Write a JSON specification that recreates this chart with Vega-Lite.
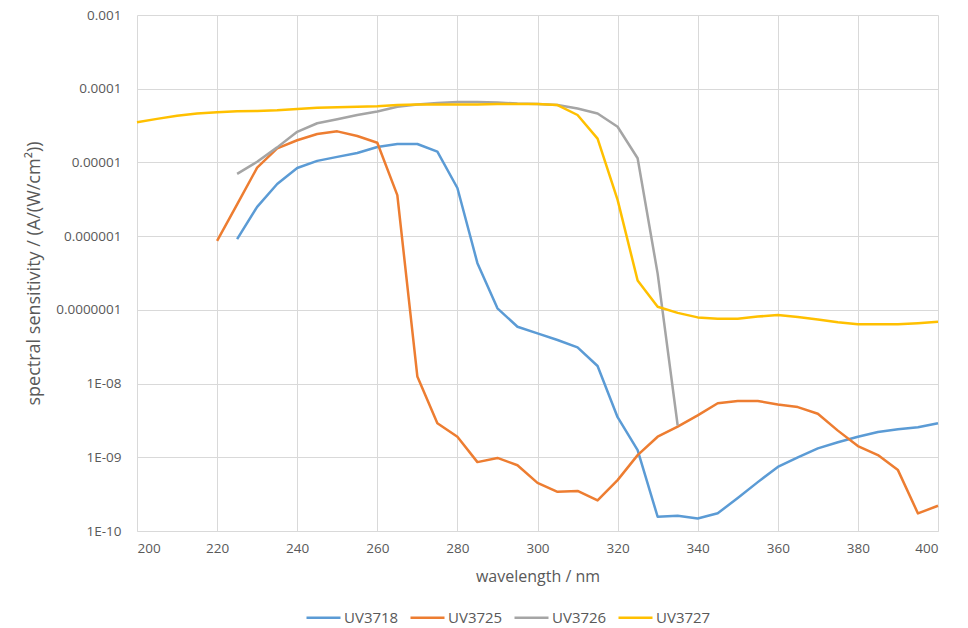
{
  "$schema": "https://vega.github.io/schema/vega-lite/v6.json",
  "width": 801,
  "height": 516,
  "autosize": {"type": "none"},
  "padding": {"left": 137, "top": 15, "right": 30, "bottom": 97},
  "background": "white",
  "config": {
    "font": "Open Sans",
    "view": {"stroke": null},
    "axis": {"labelColor": "#595959", "titleColor": "#595959", "labelFontSize": 13.5, "titleFontSize": 16, "titleFontWeight": "normal", "gridColor": "#d9d9d9", "gridWidth": 1, "domain": false, "ticks": false}
  },
  "data": {"values": [
    {"s":"UV3718","nm":225,"v":9.1e-7},{"s":"UV3718","nm":230,"v":2.5e-6},{"s":"UV3718","nm":235,"v":5.1e-6},{"s":"UV3718","nm":240,"v":8.4e-6},{"s":"UV3718","nm":245,"v":1.05e-5},{"s":"UV3718","nm":250,"v":1.19e-5},{"s":"UV3718","nm":255,"v":1.34e-5},{"s":"UV3718","nm":260,"v":1.62e-5},{"s":"UV3718","nm":265,"v":1.78e-5},{"s":"UV3718","nm":270,"v":1.78e-5},{"s":"UV3718","nm":275,"v":1.4e-5},{"s":"UV3718","nm":280,"v":4.5e-6},{"s":"UV3718","nm":285,"v":4.3e-7},{"s":"UV3718","nm":290,"v":1.05e-7},{"s":"UV3718","nm":295,"v":5.9e-8},{"s":"UV3718","nm":300,"v":4.8e-8},{"s":"UV3718","nm":305,"v":3.9e-8},{"s":"UV3718","nm":310,"v":3.1e-8},{"s":"UV3718","nm":315,"v":1.73e-8},{"s":"UV3718","nm":320,"v":3.5e-9},{"s":"UV3718","nm":325,"v":1.25e-9},{"s":"UV3718","nm":330,"v":1.56e-10},{"s":"UV3718","nm":335,"v":1.61e-10},{"s":"UV3718","nm":340,"v":1.48e-10},{"s":"UV3718","nm":345,"v":1.74e-10},{"s":"UV3718","nm":350,"v":2.8e-10},{"s":"UV3718","nm":355,"v":4.6e-10},{"s":"UV3718","nm":360,"v":7.4e-10},{"s":"UV3718","nm":365,"v":1.0e-9},{"s":"UV3718","nm":370,"v":1.32e-9},{"s":"UV3718","nm":375,"v":1.6e-9},{"s":"UV3718","nm":380,"v":1.9e-9},{"s":"UV3718","nm":385,"v":2.2e-9},{"s":"UV3718","nm":390,"v":2.4e-9},{"s":"UV3718","nm":395,"v":2.55e-9},{"s":"UV3718","nm":400,"v":2.9e-9},
    {"s":"UV3725","nm":220,"v":8.6e-7},{"s":"UV3725","nm":225,"v":2.7e-6},{"s":"UV3725","nm":230,"v":8.5e-6},{"s":"UV3725","nm":235,"v":1.55e-5},{"s":"UV3725","nm":240,"v":2.0e-5},{"s":"UV3725","nm":245,"v":2.43e-5},{"s":"UV3725","nm":250,"v":2.64e-5},{"s":"UV3725","nm":255,"v":2.28e-5},{"s":"UV3725","nm":260,"v":1.85e-5},{"s":"UV3725","nm":265,"v":3.6e-6},{"s":"UV3725","nm":270,"v":1.25e-8},{"s":"UV3725","nm":275,"v":2.9e-9},{"s":"UV3725","nm":280,"v":1.9e-9},{"s":"UV3725","nm":285,"v":8.6e-10},{"s":"UV3725","nm":290,"v":9.8e-10},{"s":"UV3725","nm":295,"v":7.8e-10},{"s":"UV3725","nm":300,"v":4.5e-10},{"s":"UV3725","nm":305,"v":3.4e-10},{"s":"UV3725","nm":310,"v":3.5e-10},{"s":"UV3725","nm":315,"v":2.6e-10},{"s":"UV3725","nm":320,"v":4.9e-10},{"s":"UV3725","nm":325,"v":1.07e-9},{"s":"UV3725","nm":330,"v":1.9e-9},{"s":"UV3725","nm":335,"v":2.6e-9},{"s":"UV3725","nm":340,"v":3.7e-9},{"s":"UV3725","nm":345,"v":5.4e-9},{"s":"UV3725","nm":350,"v":5.8e-9},{"s":"UV3725","nm":355,"v":5.8e-9},{"s":"UV3725","nm":360,"v":5.2e-9},{"s":"UV3725","nm":365,"v":4.8e-9},{"s":"UV3725","nm":370,"v":3.9e-9},{"s":"UV3725","nm":375,"v":2.3e-9},{"s":"UV3725","nm":380,"v":1.42e-9},{"s":"UV3725","nm":385,"v":1.07e-9},{"s":"UV3725","nm":390,"v":6.7e-10},{"s":"UV3725","nm":395,"v":1.73e-10},{"s":"UV3725","nm":400,"v":2.2e-10},
    {"s":"UV3726","nm":225,"v":7.0e-6},{"s":"UV3726","nm":230,"v":1.02e-5},{"s":"UV3726","nm":235,"v":1.6e-5},{"s":"UV3726","nm":240,"v":2.6e-5},{"s":"UV3726","nm":245,"v":3.4e-5},{"s":"UV3726","nm":250,"v":3.85e-5},{"s":"UV3726","nm":255,"v":4.4e-5},{"s":"UV3726","nm":260,"v":4.9e-5},{"s":"UV3726","nm":265,"v":5.7e-5},{"s":"UV3726","nm":270,"v":6.1e-5},{"s":"UV3726","nm":275,"v":6.4e-5},{"s":"UV3726","nm":280,"v":6.6e-5},{"s":"UV3726","nm":285,"v":6.6e-5},{"s":"UV3726","nm":290,"v":6.5e-5},{"s":"UV3726","nm":295,"v":6.3e-5},{"s":"UV3726","nm":300,"v":6.2e-5},{"s":"UV3726","nm":305,"v":6.0e-5},{"s":"UV3726","nm":310,"v":5.4e-5},{"s":"UV3726","nm":315,"v":4.6e-5},{"s":"UV3726","nm":320,"v":3.05e-5},{"s":"UV3726","nm":325,"v":1.14e-5},{"s":"UV3726","nm":330,"v":3.1e-7},{"s":"UV3726","nm":335,"v":2.7e-9},
    {"s":"UV3727","nm":200,"v":3.5e-5},{"s":"UV3727","nm":205,"v":3.9e-5},{"s":"UV3727","nm":210,"v":4.3e-5},{"s":"UV3727","nm":215,"v":4.6e-5},{"s":"UV3727","nm":220,"v":4.8e-5},{"s":"UV3727","nm":225,"v":4.95e-5},{"s":"UV3727","nm":230,"v":5.0e-5},{"s":"UV3727","nm":235,"v":5.1e-5},{"s":"UV3727","nm":240,"v":5.3e-5},{"s":"UV3727","nm":245,"v":5.5e-5},{"s":"UV3727","nm":250,"v":5.6e-5},{"s":"UV3727","nm":255,"v":5.7e-5},{"s":"UV3727","nm":260,"v":5.8e-5},{"s":"UV3727","nm":265,"v":6.0e-5},{"s":"UV3727","nm":270,"v":6.1e-5},{"s":"UV3727","nm":275,"v":6.1e-5},{"s":"UV3727","nm":280,"v":6.1e-5},{"s":"UV3727","nm":285,"v":6.1e-5},{"s":"UV3727","nm":290,"v":6.2e-5},{"s":"UV3727","nm":295,"v":6.2e-5},{"s":"UV3727","nm":300,"v":6.2e-5},{"s":"UV3727","nm":305,"v":6.0e-5},{"s":"UV3727","nm":310,"v":4.4e-5},{"s":"UV3727","nm":315,"v":2.1e-5},{"s":"UV3727","nm":320,"v":3.1e-6},{"s":"UV3727","nm":325,"v":2.5e-7},{"s":"UV3727","nm":330,"v":1.1e-7},{"s":"UV3727","nm":335,"v":9.1e-8},{"s":"UV3727","nm":340,"v":7.9e-8},{"s":"UV3727","nm":345,"v":7.6e-8},{"s":"UV3727","nm":350,"v":7.6e-8},{"s":"UV3727","nm":355,"v":8.1e-8},{"s":"UV3727","nm":360,"v":8.5e-8},{"s":"UV3727","nm":365,"v":8.0e-8},{"s":"UV3727","nm":370,"v":7.4e-8},{"s":"UV3727","nm":375,"v":6.8e-8},{"s":"UV3727","nm":380,"v":6.4e-8},{"s":"UV3727","nm":385,"v":6.4e-8},{"s":"UV3727","nm":390,"v":6.4e-8},{"s":"UV3727","nm":395,"v":6.6e-8},{"s":"UV3727","nm":400,"v":6.9e-8}
  ]},
  "mark": {"type": "line", "strokeWidth": 2.5, "strokeJoin": "round"},
  "encoding": {
    "x": {"field": "nm", "type": "quantitative", "scale": {"domain": [200, 400], "nice": false},
      "axis": {"values": [200,220,240,260,280,300,320,340,360,380,400], "title": "wavelength / nm", "labelPadding": 10, "titlePadding": 14, "domain": true, "domainColor": "#d9d9d9"}},
    "y": {"field": "v", "type": "quantitative", "scale": {"type": "log", "domain": [1e-10, 0.001], "nice": false},
      "axis": {"values": [0.001,0.0001,0.00001,0.000001,0.0000001,1e-8,1e-9,1e-10], "title": "spectral sensitivity / (A/(W/cm²))", "titleFontSize": 18, "labelPadding": 16, "titlePadding": 12,
        "labelExpr": "round(log(datum.value)/LN10) >= -7 ? format(datum.value, '.' + (-round(log(datum.value)/LN10)) + 'f') : '1E-' + (round(log(datum.value)/LN10) <= -10 ? '' : '0') + (-round(log(datum.value)/LN10))"}},
    "color": {"field": "s", "type": "nominal", "title": null,
      "scale": {"domain": ["UV3718","UV3725","UV3726","UV3727"], "range": ["#5B9BD5","#ED7D31","#A5A5A5","#FFC000"]},
      "legend": {"orient": "none", "direction": "horizontal", "legendX": 168, "legendY": 584, "symbolType": "stroke", "symbolSize": 1156, "symbolStrokeWidth": 2.5, "labelFontSize": 15, "labelColor": "#595959", "labelOffset": 2, "columnPadding": 6}}
  }
}
